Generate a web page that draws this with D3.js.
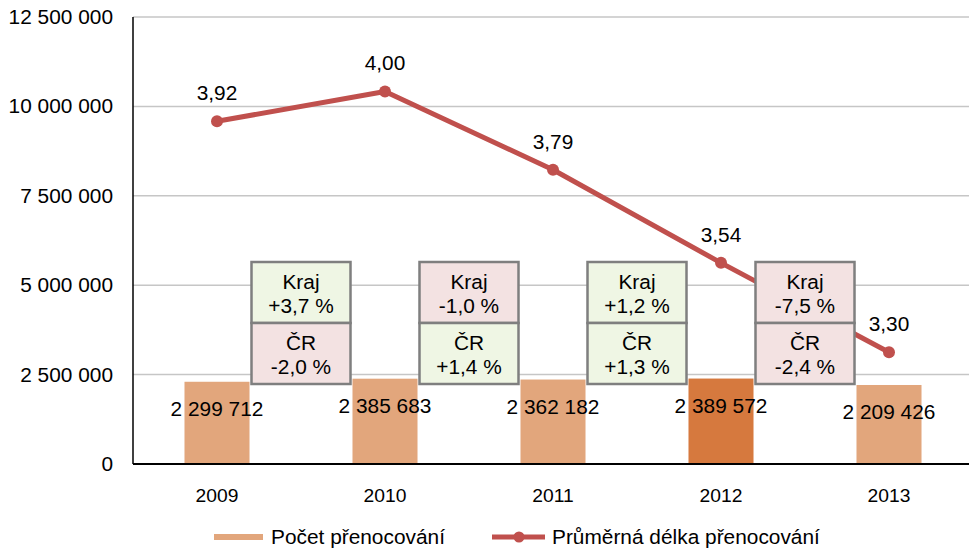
<!DOCTYPE html>
<html>
<head>
<meta charset="utf-8">
<script src="https://cdn.jsdelivr.net/npm/d3@7"></script>
<style>
  body { margin: 0; background: #fff; }
  text { font-family: "Liberation Sans", Arial, sans-serif; fill: #000; }
</style>
</head>
<body>
<div id="chart"></div>
<script>
// data
var years = ["2009", "2010", "2011", "2012", "2013"];
var nights = [2299712, 2385683, 2362182, 2389572, 2209426];   // Počet přenocování
var avgStay = [3.92, 4.00, 3.79, 3.54, 3.30];                  // Průměrná délka přenocování
var krajChange = [3.7, -1.0, 1.2, -7.5];                        // year-on-year change, region
var crChange = [-2.0, 1.4, 1.3, -2.4];                          // year-on-year change, Czech Republic
var highlightYear = "2012";
var yTicks = [0, 2500000, 5000000, 7500000, 10000000, 12500000];

var W = 969, H = 550;
var plot = {left: 133, right: 973, top: 17, bottom: 464};

var cz = d3.formatLocale({decimal: ",", thousands: " ", grouping: [3], currency: ["", ""], minus: "-"});
var fmtInt = cz.format(",d");
var fmtAvg = cz.format(".2f");
var fmtPct = function(v) { return cz.format("+.1f")(v) + " %"; };

var barColor = "#e2a67c", barHi = "#d6793e", lineColor = "#c0504d";
var green = "#eff6e4", pink = "#f3e2e2";
var fs = "19.5px";

var svg = d3.select("#chart").append("svg")
  .attr("width", W).attr("height", H);

var x = d3.scaleBand().domain(years).range([plot.left, plot.right]).padding(0);
var y = d3.scaleLinear().domain([0, 12500000]).range([plot.bottom, plot.top]);
var y2 = d3.scaleLinear().domain([3.0, 4.2]).range([plot.bottom, plot.top]);
var barW = x.bandwidth() * 0.387;
var cx = function(yr) { return x(yr) + x.bandwidth() / 2; };

// gridlines
svg.append("g").selectAll("line")
  .data(yTicks.filter(function(d) { return d > 0; }))
  .join("line")
    .attr("x1", plot.left).attr("x2", W)
    .attr("y1", function(d) { return y(d); }).attr("y2", function(d) { return y(d); })
    .attr("stroke", "#c6c6c6").attr("stroke-width", 1.5);

// y tick labels
svg.append("g").selectAll("text")
  .data(yTicks)
  .join("text")
    .attr("x", 113).attr("y", function(d) { return y(d); })
    .attr("dy", "0.36em")
    .attr("text-anchor", "end")
    .style("font-size", fs)
    .text(function(d) { return fmtInt(d); });

// bars
svg.append("g").selectAll("rect")
  .data(nights)
  .join("rect")
    .attr("x", function(d, i) { return cx(years[i]) - barW / 2; })
    .attr("y", function(d) { return y(d); })
    .attr("width", barW)
    .attr("height", function(d) { return y(0) - y(d); })
    .attr("fill", function(d, i) { return years[i] === highlightYear ? barHi : barColor; });

// bar labels
svg.append("g").selectAll("text")
  .data(nights)
  .join("text")
    .attr("x", function(d, i) { return cx(years[i]); })
    .attr("y", function(d) { return y(d) + 34; })
    .attr("text-anchor", "middle")
    .style("font-size", fs)
    .text(function(d) { return fmtInt(d); });

// axes lines
svg.append("line")
  .attr("x1", plot.left).attr("x2", plot.left)
  .attr("y1", plot.top).attr("y2", plot.bottom)
  .attr("stroke", "#000").attr("stroke-width", 1.5);
svg.append("line")
  .attr("x1", plot.left).attr("x2", W)
  .attr("y1", plot.bottom).attr("y2", plot.bottom)
  .attr("stroke", "#000").attr("stroke-width", 2);

// year labels
svg.append("g").selectAll("text")
  .data(years)
  .join("text")
    .attr("x", function(d) { return cx(d); })
    .attr("y", 502)
    .attr("text-anchor", "middle")
    .style("font-size", "18px")
    .text(function(d) { return d; });

// average stay line (drawn under the boxes)
var line = d3.line()
  .x(function(d, i) { return cx(years[i]); })
  .y(function(d) { return y2(d); });

svg.append("path")
  .datum(avgStay)
  .attr("d", line)
  .attr("fill", "none")
  .attr("stroke", lineColor)
  .attr("stroke-width", 5)
  .attr("stroke-linejoin", "round");

svg.append("g").selectAll("circle")
  .data(avgStay)
  .join("circle")
    .attr("cx", function(d, i) { return cx(years[i]); })
    .attr("cy", function(d) { return y2(d); })
    .attr("r", 6)
    .attr("fill", lineColor);

svg.append("g").selectAll("text")
  .data(avgStay)
  .join("text")
    .attr("x", function(d, i) { return cx(years[i]); })
    .attr("y", function(d) { return y2(d) - 21; })
    .attr("text-anchor", "middle")
    .style("font-size", fs)
    .text(function(d) { return fmtAvg(d); });

// change boxes between the years
var boxW = 99, boxH = 61, boxTop = 262;
var boxes = svg.append("g").selectAll("g")
  .data(krajChange)
  .join("g")
    .attr("transform", function(d, i) {
      var mx = (cx(years[i]) + cx(years[i + 1])) / 2;
      return "translate(" + (mx - boxW / 2) + "," + boxTop + ")";
    });

function drawBox(sel, label, values, dy) {
  sel.append("rect")
    .attr("x", 0).attr("y", dy)
    .attr("width", boxW).attr("height", boxH)
    .attr("fill", function(d, i) { return values[i] >= 0 ? green : pink; })
    .attr("stroke", "#7f7f7f").attr("stroke-width", 2.5);
  sel.append("text")
    .attr("x", boxW / 2).attr("y", dy + 27)
    .attr("text-anchor", "middle")
    .style("font-size", fs)
    .text(label);
  sel.append("text")
    .attr("x", boxW / 2).attr("y", dy + 51)
    .attr("text-anchor", "middle")
    .style("font-size", fs)
    .text(function(d, i) { return fmtPct(values[i]); });
}
drawBox(boxes, "Kraj", krajChange, 0);
drawBox(boxes, "ČR", crChange, boxH);

// legend
var leg = svg.append("g");
leg.append("rect")
  .attr("x", 214).attr("y", 534).attr("width", 49).attr("height", 6)
  .attr("fill", barColor);
leg.append("text")
  .attr("x", 271).attr("y", 544)
  .style("font-size", fs)
  .text("Počet přenocování");
leg.append("line")
  .attr("x1", 492).attr("x2", 545).attr("y1", 537).attr("y2", 537)
  .attr("stroke", lineColor).attr("stroke-width", 5);
leg.append("circle")
  .attr("cx", 519).attr("cy", 537).attr("r", 5.5)
  .attr("fill", lineColor);
leg.append("text")
  .attr("x", 552).attr("y", 544)
  .style("font-size", fs)
  .text("Průměrná délka přenocování");

// the original text is a little wider than Arial: stretch it around its anchor
var k = 1.07;
svg.selectAll("text").each(function() {
  var t = d3.select(this), ax = +t.attr("x");
  t.attr("transform", "translate(" + (ax * (1 - k)) + ",0) scale(" + k + ",1)");
});
</script>
</body>
</html>
